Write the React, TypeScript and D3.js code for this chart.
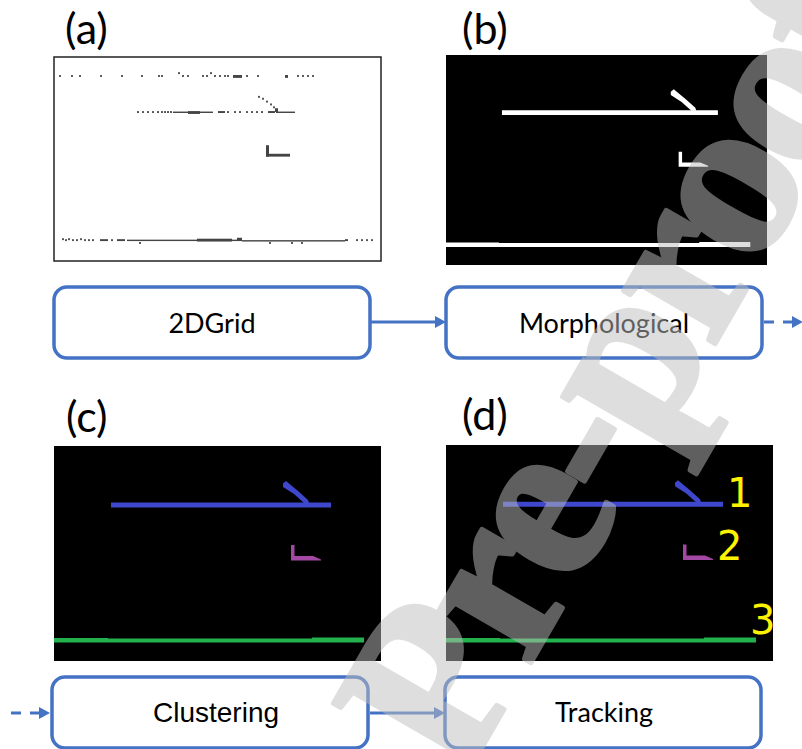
import React, { useEffect, useRef } from "react";
import * as d3 from "d3";

// occupancy grid size (cells) shared by all four panels
const GRID_W = 327;
const GRID_H = 215;

const panelLabels = ["(a)", "(b)", "(c)", "(d)"];
const stepNames = ["2DGrid", "Morphological", "Clustering", "Tracking"];
const trackIds = ["1", "2", "3"];
const clusterColors = ["#3f48cc", "#a349a4", "#22b14c"];

// (a) raw grid: single occupied cells [x, y]
const rawDots = [
  [6, 20], [18, 20], [26, 20], [47, 20], [68, 20], [88, 20], [105, 20], [108, 20],
  [125, 17], [129, 20], [134, 20], [149, 20], [153, 20], [157, 17], [161, 20],
  [166, 20], [171, 20], [174, 20], [193, 20], [204, 20], [244, 20], [249, 20],
  [254, 20], [259, 20],
  [84, 58], [89, 58], [94, 58], [99, 58], [104, 58], [108, 58], [111, 58], [114, 58],
  [117, 58], [174, 58], [181, 58], [186, 58], [193, 58], [198, 58], [203, 58], [208, 58],
  [205, 42], [209, 44], [213, 47], [217, 50], [220, 53],
  [9, 192], [12, 193], [15, 192], [19, 193], [23, 193], [27, 192], [31, 193], [35, 193],
  [39, 193], [58, 193], [303, 193], [308, 193], [313, 193], [318, 193],
  [86, 196], [216, 196], [238, 196], [248, 196],
];

// (a) raw grid: runs of cells [x0, y0, x1, y1]
const rawRuns = [
  [179, 19, 188, 22], [231, 19, 234, 22],
  [119, 57.5, 134, 59], [134, 57, 146, 60], [146, 57.5, 159, 59], [164, 57, 171, 59],
  [214, 57, 221, 59], [222, 57.5, 241, 59], [221, 54, 224, 58],
  [212, 93, 215, 105], [212, 102, 236, 105],
  [46, 192, 54, 194], [63, 192, 71, 194], [73, 192.5, 143, 194], [143, 191.5, 178, 194.5],
  [178, 192.5, 183, 194], [183, 190.5, 188, 194], [188, 193, 291, 194.5], [291, 192, 294, 194],
];

// (b)-(d) cleaned objects, one polygon list per cluster
const clusterShapes = [
  [
    [[57, 56.5], [277, 56.5], [277, 61.5], [57, 61.5]],
    [[229, 37.5], [232, 35], [244, 45], [254, 54], [255, 57], [250, 57], [240, 48], [229, 41]],
  ],
  [
    [[237, 99], [240.5, 99], [240.5, 110], [259, 110], [267, 113.5], [267, 114.5], [237, 114.5]],
  ],
  [
    [[0, 192], [54, 192], [54, 192.5], [258, 192.5], [258, 191.5], [310, 191.5], [310, 196.5], [0, 196.5]],
  ],
];

// where the track numbers sit in panel (d), grid cells
const trackLabelX = [281, 271, 304];
const trackLabelY = [62, 114, 188];

const App = () => {
  const svgRef = useRef(null);

  useEffect(() => {
    const svg = d3.select(svgRef.current);
    svg.selectAll("*").remove();

    const blue = "#4472c4";

    const panels = [
      { x: 54, y: 57, w: 327, h: 204, bg: "#fff", lx: 65, ly: 44 },
      { x: 446, y: 55, w: 321, h: 210, bg: "#000", lx: 462, ly: 44 },
      { x: 54, y: 446, w: 327, h: 215, bg: "#000", lx: 66, ly: 432 },
      { x: 446, y: 445, w: 327, h: 216, bg: "#000", lx: 462, ly: 430 },
    ];

    panels.forEach((p, i) => {
      const x = d3.scaleLinear().domain([0, GRID_W]).range([p.x, p.x + p.w]);
      const y = d3.scaleLinear().domain([0, GRID_H]).range([p.y, p.y + p.h]);
      const g = svg.append("g");

      g.append("rect")
        .attr("x", p.x)
        .attr("y", p.y)
        .attr("width", p.w)
        .attr("height", p.h)
        .attr("fill", p.bg)
        .attr("stroke", i === 0 ? "#222" : "none")
        .attr("stroke-width", 1.5);

      svg
        .append("text")
        .attr("x", p.lx)
        .attr("y", p.ly)
        .text(panelLabels[i])
        .style("font-family", "Lato, 'Open Sans', sans-serif")
        .style("font-size", "43px")
        .attr("fill", "#000");

      if (i === 0) {
        g.selectAll(".dot")
          .data(rawDots)
          .enter()
          .append("rect")
          .attr("x", (d) => x(d[0] - 1))
          .attr("y", (d) => y(d[1] - 1))
          .attr("width", x(2) - x(0))
          .attr("height", y(2) - y(0))
          .attr("fill", "#555");

        g.selectAll(".run")
          .data(rawRuns)
          .enter()
          .append("rect")
          .attr("x", (d) => x(d[0]))
          .attr("y", (d) => y(d[1]))
          .attr("width", (d) => x(d[2]) - x(d[0]))
          .attr("height", (d) => y(d[3]) - y(d[1]))
          .attr("fill", "#444");
        return;
      }

      const line = d3
        .line()
        .x((d) => x(d[0]))
        .y((d) => y(d[1]))
        .curve(d3.curveLinearClosed);

      clusterShapes.forEach((shapes, k) => {
        g.selectAll(`.c${k}`)
          .data(shapes)
          .enter()
          .append("path")
          .attr("d", (d) => line(d))
          .attr("fill", i === 1 ? "#fff" : clusterColors[k]);
      });

      if (i === 3) {
        g.selectAll(".id")
          .data(trackIds)
          .enter()
          .append("text")
          .attr("x", (d, j) => x(trackLabelX[j]))
          .attr("y", (d, j) => y(trackLabelY[j]))
          .text((d) => d)
          .style("font-family", "'DejaVu Sans', sans-serif")
          .style("font-size", "40px")
          .attr("fill", "#fff200");
      }
    });

    // processing step boxes
    const boxes = [
      { x: 54, y: 287, cx: 212, by: 333, font: "Lato", size: 27 },
      { x: 446, y: 287, cx: 604, by: 333, font: "Lato", size: 27 },
      { x: 52, y: 677, cx: 216, by: 722, font: "'Liberation Sans', Arial", size: 28 },
      { x: 445, y: 677, cx: 604, by: 722, font: "Lato", size: 27 },
    ];
    boxes.forEach((b, i) => {
      svg
        .append("rect")
        .attr("x", b.x)
        .attr("y", b.y)
        .attr("width", 316)
        .attr("height", 71)
        .attr("rx", 13)
        .attr("fill", "#fff")
        .attr("stroke", blue)
        .attr("stroke-width", 3.5);
      svg
        .append("text")
        .attr("x", b.cx)
        .attr("y", b.by)
        .attr("text-anchor", "middle")
        .text(stepNames[i])
        .style("font-family", b.font + ", sans-serif")
        .style("font-size", `${b.size}px`)
        .attr("fill", "#000");
    });

    // connecting arrows
    const arrows = [
      { x0: 370, x1: 446, y: 322, dashed: false },
      { x0: 764, x1: 803, y: 322, dashed: true },
      { x0: 11, x1: 50, y: 713, dashed: true },
      { x0: 370, x1: 445, y: 713, dashed: false },
    ];
    arrows.forEach((a) => {
      svg
        .append("line")
        .attr("x1", a.x0)
        .attr("x2", a.x1 - 9)
        .attr("y1", a.y)
        .attr("y2", a.y)
        .attr("stroke", blue)
        .attr("stroke-width", 3)
        .attr("stroke-dasharray", a.dashed ? "10,9" : null);
      svg
        .append("path")
        .attr("d", `M${a.x1},${a.y} L${a.x1 - 11},${a.y - 6} L${a.x1 - 11},${a.y + 6} Z`)
        .attr("fill", blue);
    });

    // journal watermark (group opacity so the thickening stroke doesn't double up)
    const wm = svg
      .append("g")
      .attr("transform", "translate(462,782) rotate(-60)")
      .attr("opacity", 0.5)
      .style("font-family", "'Liberation Serif', 'DejaVu Serif', serif")
      .style("font-weight", "bold")
      .style("font-size", "230px")
      .style("letter-spacing", "-9px")
      .attr("fill", "rgb(190,190,190)")
      .attr("stroke", "rgb(190,190,190)")
      .attr("stroke-width", 5)
      .attr("stroke-linejoin", "round");
    wm.append("text").attr("x", -58).attr("text-anchor", "end").text("Journal");
    wm.append("text").attr("x", 0).text("Pre-proof");
  }, []);

  return (
    <svg
      ref={svgRef}
      width={802}
      height={749}
      style={{ position: "absolute", left: 0, top: 0, background: "#fff" }}
    />
  );
};

export default App;
